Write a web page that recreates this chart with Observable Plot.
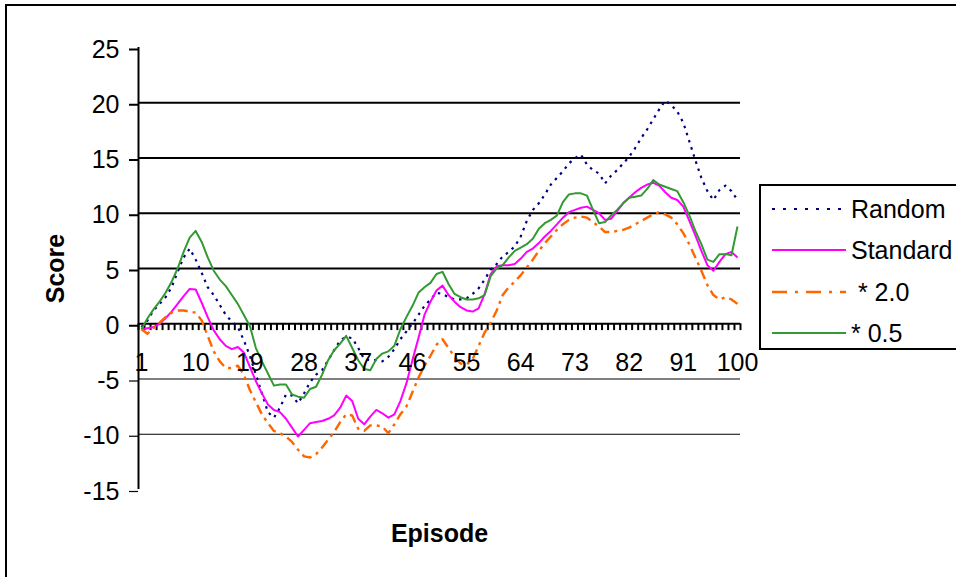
<!DOCTYPE html>
<html><head><meta charset="utf-8">
<script src="https://cdn.jsdelivr.net/npm/d3@7"></script>
<script src="https://cdn.jsdelivr.net/npm/@observablehq/plot@0.6"></script>
<style>
body{margin:0;background:#fff;font-family:"Liberation Sans",Arial,sans-serif;}
#wrap{position:relative;width:956px;height:577px;overflow:hidden;background:#fff;}
#frame{position:absolute;left:5px;top:4px;width:1100px;height:1100px;border:2px solid #000;box-sizing:border-box;pointer-events:none;}
#chart{position:absolute;left:0;top:0;}
#legend{position:absolute;left:759px;top:184px;width:260px;height:166px;border:2px solid #000;box-sizing:border-box;background:#fff;}
.row{position:absolute;left:0;height:30px;}
.row svg{position:absolute;left:9px;top:0;}
.row span{position:absolute;left:90px;top:0;font-size:25px;line-height:30px;white-space:pre;color:#000;}
</style>
</head><body>
<div id="wrap"><div id="chart"></div><div id="legend"></div><div id="frame"></div></div>
<script>
const episodes = d3.range(1, 101);
const seriesNames = ["Random", "Standard", " * 2.0", "* 0.5"];
const seriesColors = ["#000080", "#FF00FF", "#FF6600", "#339933"];
const seriesDash = ["2.5,5", null, "10,5,3,5", null];
const seriesWidth = [2.2, 2, 2.4, 2];

const random = [
 -0.3, 0.3, 1.2, 1.8, 2.4, 3.3, 4.7, 6.0, 6.8, 5.8,
 4.6, 3.3, 2.6, 1.7, 0.8, 0.2, -0.3, -1.5, -2.9, -4.6,
 -6.3, -8.0, -8.5, -7.6, -6.4, -6.5, -7.2, -6.3, -5.3, -4.6,
 -4.2, -3.3, -2.4, -1.5, -1.2, -1.3, -2.2, -3.2, -3.3, -3.3,
 -3.4, -3.0, -2.3, -1.4, -0.7, 0.0, 0.8, 1.6, 2.2, 2.8,
 2.7, 2.4, 2.2, 2.2, 2.3, 2.7, 3.2, 4.0, 4.9, 5.4,
 6.1, 6.5, 7.0, 7.9, 9.3, 10.3, 10.9, 11.7, 12.6, 13.2,
 13.8, 14.5, 15.0, 15.3, 14.4, 13.9, 13.6, 12.7, 13.4, 13.9,
 14.5, 15.1, 15.9, 16.8, 17.6, 18.5, 19.4, 20.2, 19.8, 19.2,
 18.2, 16.5, 14.8, 13.2, 12.0, 11.2, 12.1, 12.5, 12.0, 11.2
];
const standard = [
 -0.5, -0.4, -0.3, 0.0, 0.5, 1.1, 1.8, 2.5, 3.15, 3.1,
 1.9, 0.6, -0.6, -1.4, -2.0, -2.3, -2.1, -2.6, -3.9, -5.2,
 -6.3, -7.3, -7.8, -8.0, -8.6, -9.4, -10.2, -9.6, -9.0, -8.9,
 -8.8, -8.6, -8.3, -7.6, -6.5, -7.0, -8.6, -9.1, -8.4, -7.8,
 -8.1, -8.5, -8.2, -7.0, -5.4, -3.3, -1.3, 0.8, 2.0, 3.0,
 3.45, 2.6, 2.0, 1.5, 1.2, 1.1, 1.4, 2.7, 4.5, 5.2,
 5.3, 5.3, 5.4, 5.9, 6.5, 6.8, 7.3, 7.9, 8.4, 9.0,
 9.6, 10.1, 10.3, 10.5, 10.6, 10.3, 10.0, 9.4, 9.5, 10.2,
 10.9, 11.4, 11.9, 12.3, 12.6, 12.75, 12.5, 11.9, 11.4, 11.2,
 10.6, 9.3, 8.0, 6.6, 5.3, 4.8, 5.6, 6.3, 6.5, 6.0
];
const times2 = [
 -0.5, -0.9, -0.4, 0.1, 0.6, 1.0, 1.2, 1.2, 1.1, 1.0,
 0.3, -1.1, -2.5, -3.4, -4.0, -4.0, -3.8, -4.6, -6.0, -7.1,
 -8.2, -9.0, -9.7, -9.9, -10.2, -10.7, -11.4, -12.0, -12.1, -11.8,
 -11.2, -10.5, -9.8, -8.9, -8.2, -8.3, -9.5, -9.7, -9.2, -9.2,
 -9.3, -9.9, -9.1, -8.2, -7.5, -6.2, -4.9, -3.8, -2.9, -1.9,
 -1.4, -2.2, -3.0, -3.6, -3.7, -3.2, -2.0, -0.8, 0.1, 1.2,
 2.6, 3.3, 3.8, 4.4, 5.1, 5.8, 6.6, 7.3, 7.9, 8.5,
 9.0, 9.4, 9.6, 9.7, 9.6, 9.2, 8.8, 8.3, 8.3, 8.4,
 8.5, 8.7, 9.0, 9.3, 9.6, 9.9, 10.1, 9.9, 9.6, 9.0,
 8.2, 7.2, 6.0, 4.8, 3.5, 2.6, 2.2, 2.4, 2.2, 1.8
];
const times05 = [
 -0.5, 0.5, 1.3, 2.0, 2.8, 3.8, 5.0, 6.5, 7.8, 8.4,
 7.4, 6.0, 4.8, 4.0, 3.4, 2.6, 1.8, 0.8, -0.2, -2.2,
 -3.4, -4.5, -5.6, -5.5, -5.5, -6.4, -6.6, -6.7, -5.9, -5.7,
 -4.6, -3.3, -2.4, -1.8, -1.1, -2.2, -3.3, -4.1, -4.2, -3.2,
 -2.7, -2.5, -2.0, -0.5, 0.6, 1.6, 2.8, 3.3, 3.7, 4.5,
 4.7, 3.6, 2.7, 2.4, 2.2, 2.2, 2.3, 2.6, 4.3, 5.0,
 5.3, 6.0, 6.6, 6.9, 7.2, 7.7, 8.6, 9.1, 9.4, 9.8,
 11.0, 11.7, 11.8, 11.8, 11.6, 10.3, 9.1, 9.2, 9.8, 10.3,
 10.9, 11.4, 11.5, 11.6, 12.2, 13.0, 12.6, 12.4, 12.2, 12.0,
 11.0, 9.8, 8.4, 7.2, 5.8, 5.6, 6.3, 6.3, 6.2, 8.8
];
const yTicksPos = [0, 5, 10, 15, 20, 25];
const yTicksNeg = [-5, -10, -15];
const gridThick = [5, 10, 15, 20];
const gridThin = [-5, -10];
const xLabels = [1, 10, 19, 28, 37, 46, 55, 64, 73, 82, 91, 100];
const catBounds = d3.range(0.5, 101, 1);

const allSeries = [random, standard, times2, times05];
const fontFamily = '"Liberation Sans", Arial, sans-serif';

const lineMarks = allSeries.map((vals, k) =>
  Plot.line(episodes.map((e, i) => ({episode: e, score: vals[i]})), {
    x: "episode", y: "score",
    stroke: seriesColors[k], strokeWidth: seriesWidth[k],
    strokeDasharray: seriesDash[k], strokeLinejoin: "round", strokeLinecap: "butt"
  })
);

const chart = Plot.plot({
  width: 956, height: 577,
  marginLeft: 138, marginRight: 216, marginTop: 47, marginBottom: 88,
  style: {fontFamily, background: "transparent", overflow: "visible"},
  x: {domain: [0.5, 100.5], axis: null},
  y: {domain: [-15, 25], axis: null},
  marks: [
    Plot.ruleY(gridThick, {stroke: "#000", strokeWidth: 2}),
    Plot.ruleY(gridThin, {stroke: "#000", strokeWidth: 1}),
    Plot.ruleX(catBounds, {y1: 0, y2: -0.62, stroke: "#000", strokeWidth: 2}),
    Plot.ruleY([0], {stroke: "#000", strokeWidth: 2}),
    Plot.axisY({ticks: yTicksPos, label: null, tickSize: 9, tickPadding: 10, strokeWidth: 2, fontSize: 25, dy: 2, tickFormat: d => d}),
    Plot.axisY({ticks: yTicksNeg, label: null, tickSize: 9, tickPadding: 10, strokeWidth: 1.2, fontSize: 25, dy: 2, tickFormat: d => d}),
    Plot.ruleX([0.5], {y1: -15, y2: 25, stroke: "#000", strokeWidth: 2}),
    ...lineMarks,
    Plot.text(xLabels, {x: d => d, y: 0, dy: 39, text: d => String(d), fontSize: 25, fill: "#000"}),
    Plot.text(["Score"], {frameAnchor: "left", dx: -83, rotate: -90, textAnchor: "middle", text: d => d, fontSize: 25, fontWeight: "bold", fill: "#000"}),
    Plot.text(["Episode"], {frameAnchor: "bottom", dy: 52, textAnchor: "middle", text: d => d, fontSize: 25, fontWeight: "bold", fill: "#000"})
  ]
});
document.getElementById("chart").appendChild(chart);

// legend
const legend = document.getElementById("legend");
const rowTops = [8, 49, 91, 132];
seriesNames.forEach((name, k) => {
  const row = document.createElement("div");
  row.className = "row";
  row.style.top = rowTops[k] + "px";
  const dashAttr = seriesDash[k] ? `stroke-dasharray="${k === 0 ? '3,8' : '15,8,3,8'}"` : "";
  row.innerHTML = `<svg width="78" height="30"><line x1="2" x2="76" y1="15" y2="15" stroke="${seriesColors[k]}" stroke-width="${seriesWidth[k]}" ${dashAttr}/></svg><span>${name}</span>`;
  legend.appendChild(row);
});
</script>
</body></html>
